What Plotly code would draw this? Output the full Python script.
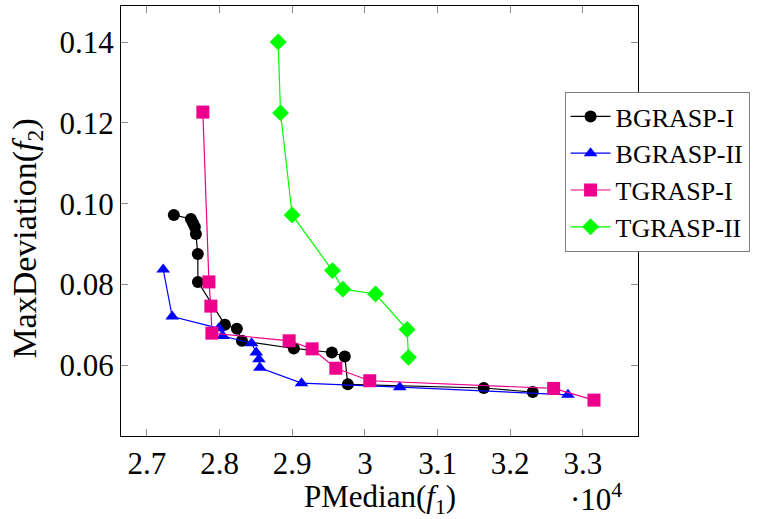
import plotly.graph_objects as go

# PMedian (f1) and MaxDeviation (f2) values
bgrasp1_x = [27370, 27605, 27633, 27660, 27674, 27700, 27702, 28073, 28238, 28307,
             29022, 29545, 29723, 29765, 31636, 32310]
bgrasp1_y = [0.0972, 0.0962, 0.0952, 0.0942, 0.0925, 0.0875, 0.0806, 0.0700, 0.0690,
             0.0660, 0.0641, 0.0631, 0.0621, 0.0552, 0.0543, 0.0533]

bgrasp2_x = [27224, 27348, 27990, 28045, 28440, 28505, 28541, 28554, 29128, 30480, 32795]
bgrasp2_y = [0.0837, 0.0720, 0.0691, 0.0672, 0.0654, 0.0631, 0.0614, 0.0593, 0.0555,
             0.0545, 0.0526]

tgrasp1_x = [27770, 27853, 27880, 27894, 28957, 29274, 29600, 30067, 32598, 33153]
tgrasp1_y = [0.1227, 0.0806, 0.0746, 0.0679, 0.0660, 0.0640, 0.0592, 0.0561, 0.0542,
             0.0513]

tgrasp2_x = [28806, 28839, 28999, 29554, 29696, 30146, 30581, 30600]
tgrasp2_y = [0.1401, 0.1225, 0.0972, 0.0834, 0.0788, 0.0776, 0.0688, 0.0619]

x_tickvals = [27000, 28000, 29000, 30000, 31000, 32000, 33000]
x_ticktext = ["2.7", "2.8", "2.9", "3", "3.1", "3.2", "3.3"]
y_tickvals = [0.06, 0.08, 0.10, 0.12, 0.14]
y_ticktext = ["0.06", "0.08", "0.10", "0.12", "0.14"]

FONT = "Liberation Serif"

series = [
    ("BGRASP-I", bgrasp1_x, bgrasp1_y, "#000000", "circle", 12),
    ("BGRASP-II", bgrasp2_x, bgrasp2_y, "#0000FF", "triangle-up", 12),
    ("TGRASP-I", tgrasp1_x, tgrasp1_y, "#EC008C", "square", 13),
    ("TGRASP-II", tgrasp2_x, tgrasp2_y, "#00FF00", "diamond", 13),
]

fig = go.Figure()
for name, xs, ys, color, sym, size in series:
    fig.add_trace(go.Scatter(
        x=xs, y=ys, name=name, mode="lines+markers",
        line=dict(color=color, width=1.2),
        marker=dict(symbol=sym, size=size, color=color, line=dict(width=0)),
    ))

axis_common = dict(
    showline=True, linecolor="black", linewidth=1, mirror="allticks",
    ticks="inside", ticklen=7, tickcolor="#8c8c8c", tickwidth=1,
    showgrid=False, zeroline=False, automargin=False,
    tickfont=dict(family=FONT, size=31, color="black"),
)

fig.update_layout(
    width=758, height=519,
    margin=dict(l=121, r=120, t=6, b=83),
    plot_bgcolor="white", paper_bgcolor="white",
    font=dict(family=FONT, color="black"),
    showlegend=True,
    legend=dict(
        x=0.858, y=0.80, xanchor="left", yanchor="top",
        bgcolor="white", bordercolor="#7f7f7f", borderwidth=1,
        font=dict(family=FONT, size=26, color="black"),
        tracegroupgap=0, itemwidth=40,
    ),
    xaxis=dict(
        range=[26643, 33759], tickvals=x_tickvals, ticktext=x_ticktext,
        **axis_common,
    ),
    yaxis=dict(
        range=[0.0424, 0.149], tickvals=y_tickvals, ticktext=y_ticktext,
        **axis_common,
    ),
)

# x-axis title
fig.add_annotation(
    x=0.5, y=0, xref="paper", yref="paper", xanchor="center", yanchor="middle",
    yshift=-63, text="PMedian(<i>f</i><sub>1</sub>)", showarrow=False,
    font=dict(family=FONT, size=31, color="black"),
)

# y-axis title
fig.add_annotation(
    x=-0.181, y=0.46, xref="paper", yref="paper", text="MaxDeviation(<i>f</i><sub>2</sub>)",
    showarrow=False, textangle=-90, xanchor="center", yanchor="middle",
    font=dict(family=FONT, size=34, color="black"),
)

# exponent marker
fig.add_annotation(
    x=0.973, y=0, xref="paper", yref="paper", xanchor="right", yanchor="middle",
    yshift=-61, text="·10<sup>4</sup>", showarrow=False,
    font=dict(family=FONT, size=31, color="black"),
)

fig.write_html("out.html")
